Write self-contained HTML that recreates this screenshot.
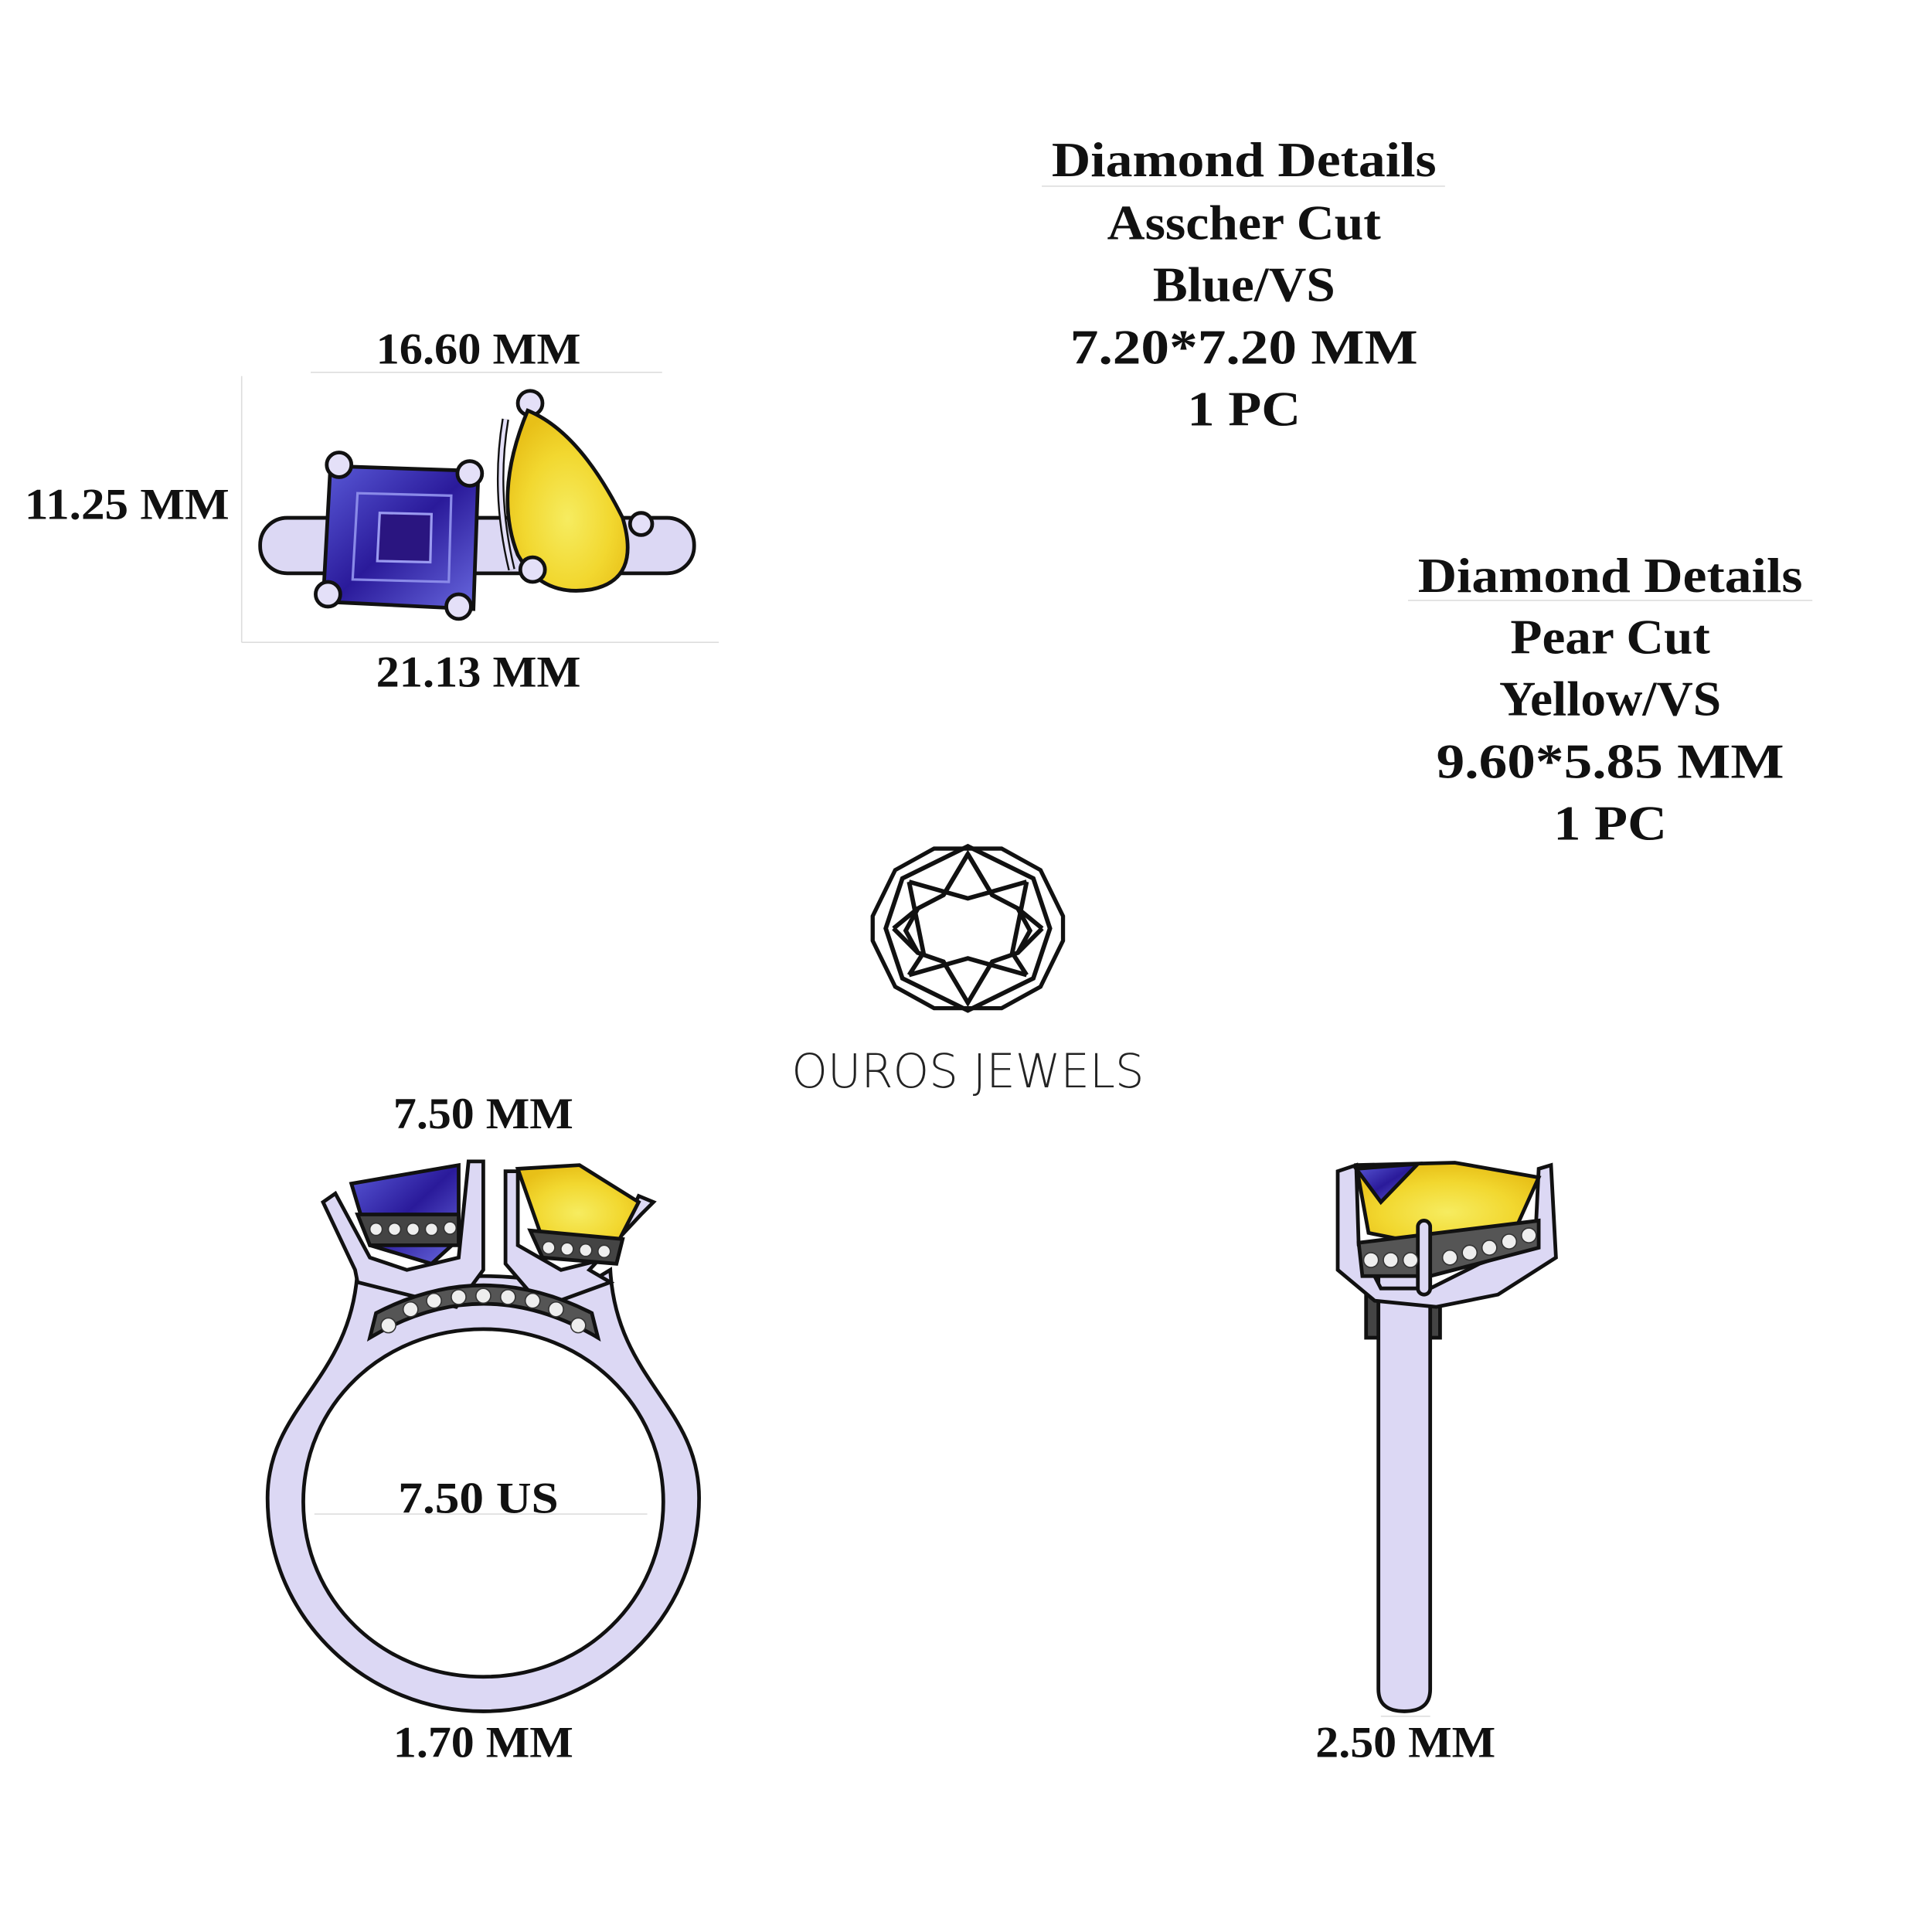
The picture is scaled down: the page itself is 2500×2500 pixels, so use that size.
<!DOCTYPE html>
<html><head><meta charset="utf-8"><style>
html,body{margin:0;padding:0;background:#fff}
svg{display:block}
.t{font-family:"Liberation Serif",serif;font-weight:bold;fill:#111;text-anchor:middle}
</style></head><body>
<svg width="2500" height="2500" viewBox="0 0 1567 1567" xmlns="http://www.w3.org/2000/svg">
<defs>
<linearGradient id="blue" x1="0" y1="0" x2="1" y2="1"><stop offset="0" stop-color="#5a5ad8"/><stop offset="0.5" stop-color="#2a1a9a"/><stop offset="1" stop-color="#6a6ae0"/></linearGradient>
<radialGradient id="yel" cx="0.5" cy="0.6" r="0.6"><stop offset="0" stop-color="#f6ec60"/><stop offset="0.6" stop-color="#f2d830"/><stop offset="1" stop-color="#e8c018"/></radialGradient>
</defs>
<text class="t" x="1009" y="143" font-size="40" textLength="312" lengthAdjust="spacingAndGlyphs">Diamond Details</text>
<line x1="845" y1="151" x2="1172" y2="151" stroke="#ddd" stroke-width="1"/>
<text class="t" x="1009" y="194" font-size="40" textLength="222" lengthAdjust="spacingAndGlyphs">Asscher Cut</text>
<text class="t" x="1009" y="244" font-size="40" textLength="148" lengthAdjust="spacingAndGlyphs">Blue/VS</text>
<text class="t" x="1009" y="295" font-size="40" textLength="282" lengthAdjust="spacingAndGlyphs">7.20*7.20 MM</text>
<text class="t" x="1009" y="345" font-size="40" textLength="92" lengthAdjust="spacingAndGlyphs">1 PC</text>

<text class="t" x="1306" y="480" font-size="40" textLength="312" lengthAdjust="spacingAndGlyphs">Diamond Details</text>
<line x1="1142" y1="487" x2="1470" y2="487" stroke="#ddd" stroke-width="1"/>
<text class="t" x="1306" y="530" font-size="40" textLength="162" lengthAdjust="spacingAndGlyphs">Pear Cut</text>
<text class="t" x="1306" y="580" font-size="40" textLength="180" lengthAdjust="spacingAndGlyphs">Yellow/VS</text>
<text class="t" x="1306" y="631" font-size="40" textLength="282" lengthAdjust="spacingAndGlyphs">9.60*5.85 MM</text>
<text class="t" x="1306" y="681" font-size="40" textLength="92" lengthAdjust="spacingAndGlyphs">1 PC</text>

<text class="t" x="388" y="295" font-size="36" textLength="166" lengthAdjust="spacingAndGlyphs">16.60 MM</text>
<line x1="252" y1="302" x2="537" y2="302" stroke="#ddd"/>
<text class="t" x="103" y="421" font-size="36" textLength="166" lengthAdjust="spacingAndGlyphs">11.25 MM</text>
<line x1="196" y1="305" x2="196" y2="521" stroke="#ddd"/>
<line x1="196" y1="521" x2="583" y2="521" stroke="#ddd"/>
<text class="t" x="388" y="557" font-size="36" textLength="166" lengthAdjust="spacingAndGlyphs">21.13 MM</text>

<g stroke="#111" stroke-width="3">
<rect x="211" y="420" width="352" height="45" rx="22" fill="#dcd8f4"/>
<circle cx="430" cy="327" r="10" fill="#e4e0f8"/>
<path d="M410 340 Q400 400 415 462" fill="none" stroke-width="6" stroke="#111"/>
<path d="M410 340 Q400 400 415 462" fill="none" stroke-width="3" stroke="#e4e0f8"/>
<path d="M428 333 Q470 350 505 420 Q520 470 480 478 Q440 485 420 450 Q400 400 428 333 Z" fill="url(#yel)"/>
<circle cx="520" cy="425" r="9" fill="#e4e0f8"/>
<circle cx="432" cy="462" r="10" fill="#e4e0f8"/>
<path d="M268 378 L388 382 L384 494 L262 488 Z" fill="url(#blue)"/>
<path d="M290 400 L366 402 L364 472 L286 470 Z" fill="none" stroke="#8a8ae8" stroke-width="2"/>
<path d="M308 416 L350 417 L349 456 L306 455 Z" fill="#2a1580" stroke="#9a9af0" stroke-width="2"/>
<circle cx="275" cy="377" r="10" fill="#e4e0f8"/>
<circle cx="381" cy="384" r="10" fill="#e4e0f8"/>
<circle cx="266" cy="482" r="10" fill="#e4e0f8"/>
<circle cx="372" cy="492" r="10" fill="#e4e0f8"/>
</g>

<g transform="translate(785,753)" fill="none" stroke="#111" stroke-width="4">
<polygon points="-33,-78 33,-78 71,-57 93,-12 93,12 71,57 33,78 -33,78 -71,57 -93,12 -93,-12 -71,-57" transform="scale(0.83)"/>
<polygon points="0,-74 59,-45 74,0 59,45 0,74 -59,45 -74,0 -59,-45" transform="scale(0.9)"/>
<path d="M0,-67 L-22,-30 L-45,-18 L-56,2 L-45,22 L-22,30 L0,67 L22,30 L45,22 L56,2 L45,-18 L22,-30 Z" transform="scale(0.9)"/>
<path d="M0,-67 L22,-30 M0,-67 L-22,-30 M-53,-42 L0,-27 L53,-42 M-53,42 L0,27 L53,42 M-67,0 L-45,-18 M-67,0 L-45,22 M67,0 L45,-18 M67,0 L45,22 M-53,-42 L-40,22 L-53,42 M53,-42 L40,22 L53,42" transform="scale(0.9)"/>
</g>
<text x="785" y="882" font-family="'DejaVu Sans','Liberation Sans',sans-serif" font-size="38" text-anchor="middle" textLength="286" lengthAdjust="spacingAndGlyphs" fill="#222" style="font-weight:lighter">OUROS JEWELS</text>

<g stroke="#111" stroke-width="3">
<path d="M290 1030 C285 1120 217 1140 217 1215 C217 1315 300 1388 392 1388 C484 1388 567 1315 567 1215 C567 1140 500 1120 495 1030 L470 1045 Q392 1025 312 1045 Z M392 1078 C310 1078 246 1140 246 1218 C246 1298 310 1360 392 1360 C474 1360 538 1298 538 1218 C538 1140 474 1078 392 1078 Z" fill="#dcd8f4" fill-rule="evenodd"/>
<path d="M290 1040 L288 1030 L262 975 L272 968 L300 1020 L330 1030 L372 1020 L380 942 L392 942 L392 1030 L370 1060 Z" fill="#dcd8f4"/>
<path d="M495 1040 L478 1030 L520 985 L530 975 L518 970 L495 1020 L455 1030 L420 1010 L420 950 L410 950 L410 1025 L440 1060 Z" fill="#dcd8f4"/>
<path d="M285 960 L372 945 L372 1005 L350 1025 L300 1010 Z" fill="url(#blue)"/>
<path d="M420 948 L470 945 L518 975 L500 1010 L440 1005 Z" fill="url(#yel)"/>
<path d="M290 985 L372 985 L372 1010 L300 1010 Z" fill="#444"/>
<path d="M430 998 L505 1005 L500 1025 L440 1020 Z" fill="#444"/>
<path d="M300 1085 Q392 1030 485 1085 L480 1065 Q392 1020 305 1065 Z" fill="#555"/>
</g>
<g fill="#eee" stroke="#333" stroke-width="1">
<circle cx="315" cy="1075" r="6"/><circle cx="333" cy="1062" r="6"/><circle cx="352" cy="1055" r="6"/><circle cx="372" cy="1052" r="6"/><circle cx="392" cy="1051" r="6"/><circle cx="412" cy="1052" r="6"/><circle cx="432" cy="1055" r="6"/><circle cx="451" cy="1062" r="6"/><circle cx="469" cy="1075" r="6"/>
<circle cx="305" cy="997" r="5"/><circle cx="320" cy="997" r="5"/><circle cx="335" cy="997" r="5"/><circle cx="350" cy="997" r="5"/><circle cx="365" cy="996" r="5"/>
<circle cx="445" cy="1012" r="5"/><circle cx="460" cy="1013" r="5"/><circle cx="475" cy="1014" r="5"/><circle cx="490" cy="1015" r="5"/>
</g>
<text class="t" x="392" y="915" font-size="36" textLength="146" lengthAdjust="spacingAndGlyphs">7.50 MM</text>
<text class="t" x="388" y="1227" font-size="36" textLength="130" lengthAdjust="spacingAndGlyphs">7.50 US</text>
<line x1="255" y1="1228" x2="525" y2="1228" stroke="#ddd"/>
<text class="t" x="392" y="1425" font-size="36" textLength="146" lengthAdjust="spacingAndGlyphs">1.70 MM</text>

<g stroke="#111" stroke-width="3">
<rect x="1108" y="1050" width="60" height="35" fill="#444"/>
<path d="M1118 1020 L1118 1370 Q1118 1388 1139 1388 Q1160 1388 1160 1370 L1160 1020 Z" fill="#dcd8f4"/>
<path d="M1085 950 L1100 945 L1102 1010 L1120 1045 L1160 1045 L1200 1025 L1245 1010 L1248 948 L1258 945 L1262 1020 L1215 1050 L1165 1060 L1115 1055 L1085 1030 Z" fill="#dcd8f4"/>
<path d="M1100 945 L1180 943 L1248 955 L1230 995 L1160 1010 L1110 1000 Z" fill="url(#yel)"/>
<path d="M1100 948 L1150 944 L1120 975 Z" fill="url(#blue)"/>
<path d="M1102 1008 L1248 990 L1248 1012 L1160 1035 L1105 1035 Z" fill="#555"/>
<rect x="1150" y="990" width="10" height="60" rx="5" fill="#dcd8f4"/>
</g>
<g fill="#eee" stroke="#333" stroke-width="1">
<circle cx="1112" cy="1022" r="6"/><circle cx="1128" cy="1022" r="6"/><circle cx="1144" cy="1022" r="6"/><circle cx="1176" cy="1020" r="6"/><circle cx="1192" cy="1016" r="6"/><circle cx="1208" cy="1012" r="6"/><circle cx="1224" cy="1007" r="6"/><circle cx="1240" cy="1002" r="6"/>
</g>
<text class="t" x="1140" y="1425" font-size="36" textLength="146" lengthAdjust="spacingAndGlyphs">2.50 MM</text>
<line x1="1120" y1="1392" x2="1160" y2="1392" stroke="#ddd"/>
</svg>
</body></html>
